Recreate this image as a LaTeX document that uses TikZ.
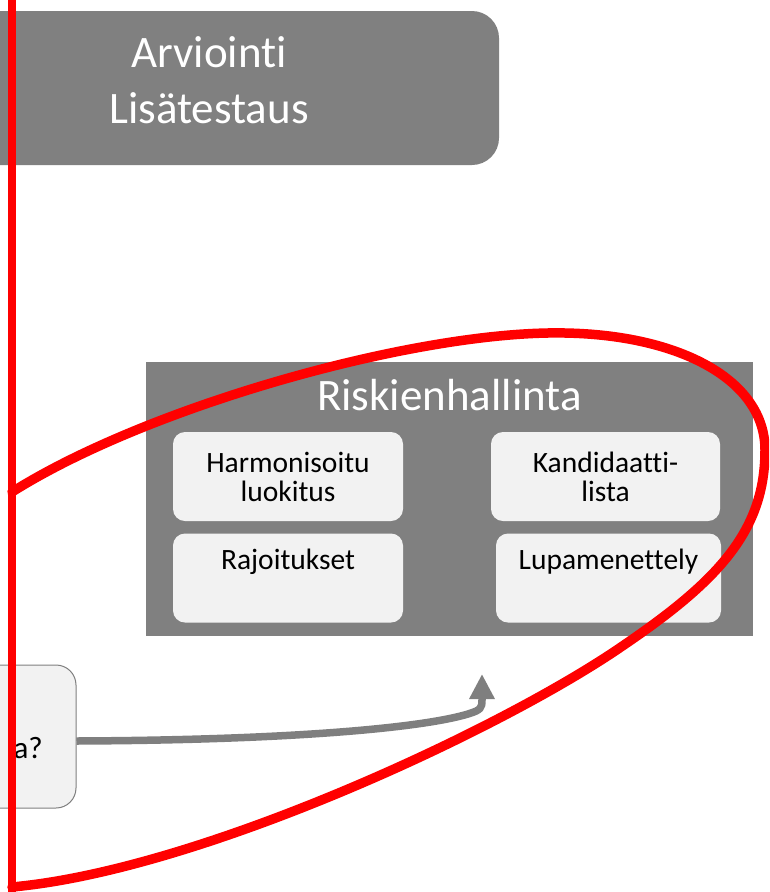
\documentclass[tikz,border=0pt]{standalone}
\usepackage{fontspec}
\setmainfont{Carlito}[Ligatures=NoCommon]
\usetikzlibrary{arrows.meta,calc}
\definecolor{boxgray}{HTML}{808080}
\definecolor{lightbox}{HTML}{F2F2F2}
\definecolor{arrowgray}{HTML}{7F7F7F}
\definecolor{redmark}{HTML}{FF0000}
\tikzset{
  bigbox/.style={fill=boxgray, draw=none, inner sep=0pt},
  innerbox/.style={fill=lightbox, draw=none, rounded corners=12pt, minimum width=230pt, minimum height=89pt, inner sep=0pt, align=center, font=\fontsize{29.5}{29}\selectfont},
  titletext/.style={text=white, inner sep=0pt, align=center, font=\fontsize{45}{56}\selectfont},
  itext/.style={text=black, inner sep=0pt, font=\fontsize{29.5}{29}\selectfont},
  flowarrow/.style={draw=arrowgray, line width=7.5pt, -{Triangle[length=25pt,width=24pt]}},
  redline/.style={draw=redmark, line width=9.5pt, line join=round, line cap=round}
}
\begin{document}
\begin{tikzpicture}[x=1pt,y=-1pt]
\useasboundingbox (0,0) rectangle (769,892);
\clip (0,0) rectangle (769,892);
% top box
\node[bigbox, rounded corners=27pt, minimum width=579pt, minimum height=154pt] (arv) at (209.5,88) {};
\node[titletext] (arvtext) at (209,80) {Arviointi\\Lisätestaus};
% Riskienhallinta
\node[bigbox, minimum width=607pt, minimum height=274pt] (risk) at (449.5,499) {};
\node[titletext, anchor=base] (risktitle) at (449.5,410) {Riskienhallinta};
\node[innerbox] (harm) at (288,476.5) {Harmonisoitu\\luokitus};
\node[innerbox, minimum width=229pt] (kand) at (605.5,476.5) {Kandidaatti-\\lista};
\node[innerbox] (rajo) at (288,578) {};
\node[innerbox, minimum width=225pt] (lupa) at (608.5,578) {};
\node[itext, anchor=base] (rajotext) at ($(rajo.north)+(0,36)$) {Rajoitukset};
\node[itext, anchor=base] (lupatext) at ($(lupa.north)+(0,36)$) {Lupamenettely};
% left question box
\node[fill=lightbox, draw=arrowgray, line width=1pt, rounded corners=20pt, minimum width=276pt, minimum height=143pt, inner sep=0pt] (qbox) at (-62,736.5) {};
\node[anchor=base east, inner sep=0pt, font=\fontsize{31}{33}\selectfont] (qtext) at (43,758) {a?};
% arrow
\coordinate (tip) at (482,674);
\draw[flowarrow] (qbox.east |- 0,741) .. controls (300,740) and (425,727) .. (468,714) .. controls (481,710) and (482,708) .. (482,700) -- (tip);
% red marks
\draw[redline, line width=8pt] (11.5,-10) -- (11.5,900);
\draw[redline] (12,492) .. controls (150,405) and (420,330) .. (565,333)
  .. controls (680,335) and (765,380) .. (765,450)
  .. controls (765,530) and (720,580) .. (621,647)
  .. controls (500,730) and (200,870) .. (12,887);
\end{tikzpicture}
\end{document}
